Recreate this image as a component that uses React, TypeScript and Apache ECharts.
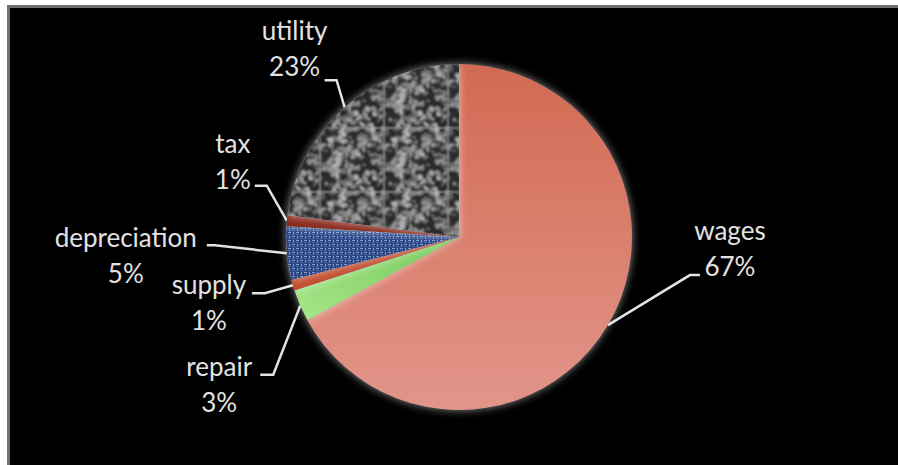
import React, { useEffect, useRef } from "react";
import * as echarts from "echarts";

// ---- data ----
const categories = ["wages", "repair", "supply", "depreciation", "tax", "utility"];
const values = [67, 3, 1, 5, 1, 23];

// label placement offsets relative to each slice's label anchor (layout only)
// e = elbow of label line, f = end of label line, t = label text centre
const labelOffsets = [
  { ex: 82, ey: -50, fx: 92, fy: -50, tx: 122, ty: -77 },
  { ex: -27, ey: 69, fx: -40, fy: 69, tx: -81, ty: 78 },
  { ex: -28, ey: 8, fx: -41, fy: 8, tx: -84, ty: 17 },
  { ex: -72, ey: -8, fx: -80, fy: -8, tx: -161, ty: 2 },
  { ex: -20, ey: -35, fx: -32, fy: -35, tx: -54, ty: -60 },
  { ex: -8, ey: -27, fx: -20, fy: -27, tx: -50, ty: -59 },
];

function lcg(seed: number) {
  let s = seed >>> 0;
  return () => {
    s = (s * 1664525 + 1013904223) >>> 0;
    return s / 4294967296;
  };
}

function noiseTexture(): HTMLCanvasElement {
  const size = 64;
  const raw = document.createElement("canvas");
  raw.width = size;
  raw.height = size;
  const ctx = raw.getContext("2d")!;
  ctx.fillStyle = "#2a2a2a";
  ctx.fillRect(0, 0, size, size);
  const rnd = lcg(12345);
  for (let i = 0; i < 230; i++) {
    const x = rnd() * size;
    const y = rnd() * size;
    const r = 1.2 + rnd() * 2.0;
    const g = Math.floor(95 + rnd() * 110);
    ctx.fillStyle = `rgba(${g},${g},${g},0.75)`;
    for (const ox of [-size, 0, size]) {
      for (const oy of [-size, 0, size]) {
        ctx.beginPath();
        ctx.arc(x + ox, y + oy, r, 0, Math.PI * 2);
        ctx.fill();
      }
    }
  }
  const out = document.createElement("canvas");
  out.width = size;
  out.height = size;
  const octx = out.getContext("2d")!;
  (octx as any).filter = "blur(0.8px)";
  for (const ox of [-size, 0, size]) {
    for (const oy of [-size, 0, size]) {
      octx.drawImage(raw, ox, oy);
    }
  }
  return out;
}

function weaveTexture(): HTMLCanvasElement {
  const c = document.createElement("canvas");
  c.width = 8;
  c.height = 8;
  const ctx = c.getContext("2d")!;
  ctx.fillStyle = "#2c4684";
  ctx.fillRect(0, 0, 8, 8);
  ctx.fillStyle = "#7e9bd4";
  ctx.fillRect(0, 0, 3, 1);
  ctx.fillRect(4, 4, 3, 1);
  ctx.fillRect(5, 0, 1, 3);
  ctx.fillRect(1, 4, 1, 3);
  ctx.fillStyle = "#4e6aa8";
  ctx.fillRect(0, 2, 3, 1);
  ctx.fillRect(4, 6, 3, 1);
  return c;
}

export default function App() {
  const ref = useRef<HTMLDivElement>(null);

  useEffect(() => {
    if (!ref.current) return;
    const chart = echarts.init(ref.current, undefined, { renderer: "svg" });
    const noise = noiseTexture();
    const weave = weaveTexture();
    const sliceColors: any[] = [
      {
        type: "linear", x: 0, y: 0, x2: 0, y2: 1,
        colorStops: [
          { offset: 0, color: "#d26a52" },
          { offset: 1, color: "#e2958a" },
        ],
      },
      {
        type: "linear", x: 1, y: 0, x2: 0, y2: 1,
        colorStops: [
          { offset: 0, color: "#74c957" },
          { offset: 1, color: "#a8e68c" },
        ],
      },
      "#c24e2e",
      { image: weave, repeat: "repeat", imageWidth: 8, imageHeight: 8 },
      "#8a2a1c",
      { image: noise, repeat: "repeat", imageWidth: 64, imageHeight: 64 },
    ];

    chart.setOption({
      animation: false,
      backgroundColor: "transparent",
      series: [
        {
          type: "pie",
          center: [459, 237],
          radius: 173,
          startAngle: 90,
          clockwise: true,
          avoidLabelOverlap: false,
          itemStyle: {
            shadowBlur: 8,
            shadowColor: "rgba(255,255,255,0.55)",
          },
          label: {
            show: true,
            position: "outside",
            color: "#e2e2e2",
            fontFamily: "Lato",
            fontSize: 26,
            lineHeight: 36,
            formatter: (p: any) => `${p.name}\n${Math.round(p.percent)}%`,
          },
          labelLine: {
            show: true,
            length: 20,
            length2: 10,
            lineStyle: { color: "#e2e2e2", width: 2.5 },
          },
          labelLayout: (params: any) => {
            const o = labelOffsets[params.dataIndex];
            const pts = params.labelLinePoints;
            if (!o || !pts) return {};
            const a = pts[0];
            return {
              x: a[0] + o.tx,
              y: a[1] + o.ty,
              align: "center",
              verticalAlign: "middle",
              labelLinePoints: [
                [a[0], a[1]],
                [a[0] + o.ex, a[1] + o.ey],
                [a[0] + o.fx, a[1] + o.fy],
              ],
            };
          },
          data: categories.map((name, i) => ({
            name,
            value: values[i],
            itemStyle: { color: sliceColors[i] },
          })),
        },
      ],
    });
    return () => chart.dispose();
  }, []);

  return (
    <div
      style={{
        position: "fixed",
        left: 0,
        top: 0,
        width: 898,
        height: 465,
        background: "#ffffff",
        overflow: "hidden",
      }}
    >
      <div
        style={{
          position: "absolute",
          left: 7,
          top: 5,
          right: 0,
          bottom: 0,
          background: "#000000",
          borderTop: "3px solid #707070",
          borderLeft: "3px solid #707070",
        }}
      />
      <div
        ref={ref}
        style={{ position: "absolute", left: 0, top: 0, width: 898, height: 465 }}
      />
    </div>
  );
}
